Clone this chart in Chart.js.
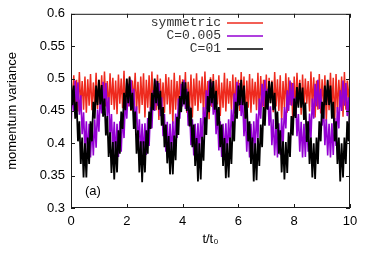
<!DOCTYPE html>
<html>
<head>
<meta charset="utf-8">
<script src="https://cdn.jsdelivr.net/npm/chart.js@4.4.1/dist/chart.umd.min.js"></script>
<style>
  html, body { margin: 0; padding: 0; background: #fff; }
  #wrap { width: 374px; height: 262px; }
</style>
</head>
<body>
<div id="wrap"><canvas id="varianceChart" width="374" height="262"></canvas></div>
<script>
// sampling step of the curves, in units of t0
const timeStep = 0.05;
const xTicks = [0, 2, 4, 6, 8, 10];
const yTicks = [0.3, 0.35, 0.4, 0.45, 0.5, 0.55, 0.6];
const seriesLabels = ['symmetric', 'C=0.005', 'C=01'];
const panelLabel = '(a)';

const symmetric = [
    0.478, 0.462, 0.505, 0.455, 0.498, 0.449, 0.510, 0.458, 0.496, 0.452,
    0.503, 0.447, 0.499, 0.458, 0.507, 0.451, 0.494, 0.460, 0.509, 0.453,
    0.498, 0.462, 0.505, 0.448, 0.511, 0.457, 0.496, 0.450, 0.508, 0.459,
    0.501, 0.452, 0.497, 0.445, 0.506, 0.461, 0.500, 0.454, 0.512, 0.448,
    0.499, 0.457, 0.504, 0.450, 0.497, 0.463, 0.509, 0.452, 0.495, 0.446,
    0.503, 0.459, 0.508, 0.440, 0.498, 0.455, 0.505, 0.449, 0.511, 0.458,
    0.497, 0.451, 0.506, 0.436, 0.500, 0.457, 0.494, 0.447, 0.507, 0.460,
    0.502, 0.445, 0.498, 0.430, 0.509, 0.452, 0.496, 0.458, 0.505, 0.449,
    0.499, 0.461, 0.510, 0.447, 0.495, 0.455, 0.506, 0.440, 0.500, 0.458,
    0.508, 0.450, 0.497, 0.462, 0.503, 0.444, 0.511, 0.453, 0.496, 0.437,
    0.502, 0.456, 0.507, 0.448, 0.498, 0.460, 0.505, 0.442, 0.494, 0.455,
    0.509, 0.449, 0.500, 0.461, 0.496, 0.452, 0.506, 0.446, 0.502, 0.457,
    0.498, 0.450, 0.510, 0.458, 0.503, 0.438, 0.497, 0.455, 0.507, 0.447,
    0.500, 0.460, 0.495, 0.451, 0.509, 0.444, 0.504, 0.456, 0.498, 0.441,
    0.506, 0.453, 0.501, 0.462, 0.497, 0.448, 0.510, 0.457, 0.499, 0.450,
    0.505, 0.436, 0.496, 0.455, 0.508, 0.447, 0.502, 0.459, 0.494, 0.432,
    0.503, 0.451, 0.509, 0.458, 0.498, 0.444, 0.506, 0.453, 0.500, 0.461,
    0.496, 0.449, 0.511, 0.456, 0.502, 0.440, 0.497, 0.452, 0.507, 0.446,
    0.499, 0.458, 0.505, 0.434, 0.496, 0.451, 0.509, 0.455, 0.501, 0.430,
    0.507, 0.447, 0.498, 0.457, 0.503, 0.441, 0.510, 0.452, 0.497, 0.459,
    0.512
];

const c005 = [
    0.423, 0.482, 0.450, 0.497, 0.458, 0.494, 0.444, 0.474, 0.414, 0.448,
    0.389, 0.434, 0.379, 0.430, 0.378, 0.431, 0.381, 0.437, 0.393, 0.452,
    0.418, 0.477, 0.446, 0.495, 0.458, 0.493, 0.442, 0.471, 0.411, 0.445,
    0.387, 0.433, 0.378, 0.430, 0.379, 0.434, 0.387, 0.446, 0.408, 0.469,
    0.438, 0.492, 0.457, 0.498, 0.453, 0.484, 0.427, 0.457, 0.397, 0.437,
    0.381, 0.430, 0.378, 0.431, 0.382, 0.439, 0.396, 0.456, 0.423, 0.482,
    0.450, 0.497, 0.458, 0.493, 0.442, 0.471, 0.411, 0.445, 0.387, 0.433,
    0.378, 0.430, 0.379, 0.434, 0.387, 0.446, 0.408, 0.469, 0.438, 0.492,
    0.457, 0.498, 0.453, 0.484, 0.427, 0.457, 0.397, 0.437, 0.381, 0.430,
    0.378, 0.431, 0.382, 0.439, 0.396, 0.456, 0.423, 0.482, 0.450, 0.497,
    0.458, 0.494, 0.444, 0.474, 0.414, 0.448, 0.389, 0.434, 0.379, 0.430,
    0.378, 0.431, 0.381, 0.437, 0.393, 0.452, 0.418, 0.477, 0.446, 0.495,
    0.458, 0.493, 0.442, 0.471, 0.411, 0.445, 0.387, 0.433, 0.378, 0.430,
    0.379, 0.434, 0.387, 0.446, 0.408, 0.469, 0.438, 0.492, 0.457, 0.498,
    0.453, 0.484, 0.427, 0.457, 0.397, 0.437, 0.381, 0.430, 0.378, 0.431,
    0.382, 0.439, 0.396, 0.456, 0.423, 0.482, 0.450, 0.497, 0.458, 0.493,
    0.442, 0.471, 0.411, 0.445, 0.387, 0.433, 0.378, 0.430, 0.379, 0.434,
    0.387, 0.446, 0.408, 0.469, 0.438, 0.492, 0.457, 0.498, 0.453, 0.484,
    0.427, 0.457, 0.397, 0.437, 0.381, 0.430, 0.378, 0.431, 0.382, 0.439,
    0.396, 0.456, 0.423, 0.482, 0.450, 0.497, 0.458, 0.493, 0.442, 0.471,
    0.411
];

const c01 = [
    0.498, 0.459, 0.489, 0.438, 0.464, 0.403, 0.434, 0.368, 0.409, 0.347,
    0.400, 0.347, 0.409, 0.368, 0.434, 0.403, 0.464, 0.438, 0.489, 0.459,
    0.498, 0.460, 0.490, 0.441, 0.469, 0.412, 0.442, 0.379, 0.417, 0.354,
    0.402, 0.344, 0.403, 0.355, 0.420, 0.384, 0.449, 0.422, 0.478, 0.451,
    0.500, 0.462, 0.502, 0.451, 0.478, 0.422, 0.449, 0.384, 0.420, 0.355,
    0.403, 0.340, 0.403, 0.355, 0.420, 0.384, 0.449, 0.422, 0.478, 0.451,
    0.500, 0.462, 0.496, 0.452, 0.481, 0.427, 0.456, 0.394, 0.429, 0.369,
    0.411, 0.352, 0.402, 0.352, 0.412, 0.374, 0.441, 0.413, 0.473, 0.448,
    0.495, 0.460, 0.494, 0.450, 0.480, 0.426, 0.455, 0.394, 0.429, 0.365,
    0.408, 0.341, 0.400, 0.344, 0.410, 0.373, 0.440, 0.413, 0.473, 0.448,
    0.499, 0.462, 0.496, 0.452, 0.481, 0.427, 0.456, 0.394, 0.429, 0.365,
    0.408, 0.346, 0.400, 0.347, 0.409, 0.368, 0.434, 0.403, 0.464, 0.438,
    0.489, 0.459, 0.498, 0.459, 0.489, 0.438, 0.464, 0.403, 0.434, 0.368,
    0.409, 0.341, 0.400, 0.343, 0.408, 0.365, 0.429, 0.394, 0.456, 0.427,
    0.481, 0.452, 0.496, 0.462, 0.495, 0.451, 0.478, 0.422, 0.449, 0.384,
    0.420, 0.355, 0.403, 0.344, 0.402, 0.354, 0.417, 0.379, 0.442, 0.412,
    0.469, 0.439, 0.487, 0.455, 0.493, 0.455, 0.486, 0.436, 0.463, 0.402,
    0.434, 0.368, 0.409, 0.347, 0.400, 0.345, 0.409, 0.368, 0.434, 0.403,
    0.464, 0.438, 0.489, 0.459, 0.498, 0.459, 0.489, 0.438, 0.464, 0.403,
    0.434, 0.368, 0.409, 0.341, 0.400, 0.347, 0.409, 0.368, 0.434, 0.403,
    0.464
];

const colorRed = '#ee2a1e';
const colorViolet = '#9400d3';
const colorBlack = '#000000';
const axisFont = { family: '"Liberation Sans", Arial, sans-serif', size: 13 };
const keyFont = '13px "Liberation Mono", "Courier New", monospace';

function toPoints(values) {
    return values.map((v, i) => ({ x: i * timeStep, y: v }));
}

// gnuplot look: closed frame, inward ticks on all sides, key and panel label
const gnuplotFrame = {
    id: 'gnuplotFrame',
    afterDraw(chart) {
        const ctx = chart.ctx;
        const area = chart.chartArea;
        const xs = chart.scales.x;
        const ys = chart.scales.y;
        const tick = 4;
        ctx.save();
        ctx.strokeStyle = '#1a1a1a';
        ctx.lineWidth = 1;
        ctx.strokeRect(area.left + 0.5, area.top + 0.5, area.right - area.left - 1, area.bottom - area.top - 1);
        ctx.beginPath();
        xTicks.forEach(v => {
            const px = Math.round(xs.getPixelForValue(v)) + 0.5;
            ctx.moveTo(px, area.bottom); ctx.lineTo(px, area.bottom - tick);
            ctx.moveTo(px, area.top); ctx.lineTo(px, area.top + tick);
        });
        yTicks.forEach(v => {
            const py = Math.round(ys.getPixelForValue(v)) + 0.5;
            ctx.moveTo(area.left, py); ctx.lineTo(area.left + tick, py);
            ctx.moveTo(area.right, py); ctx.lineTo(area.right - tick, py);
        });
        ctx.stroke();

        // key, text right aligned with the sample line after it
        ctx.font = keyFont;
        ctx.textAlign = 'right';
        ctx.textBaseline = 'middle';
        ctx.lineWidth = 1.6;
        chart.data.datasets.forEach((ds, i) => {
            const y = 23 + i * 13;
            ctx.fillStyle = '#333';
            ctx.fillText(ds.label, 221, y);
            ctx.strokeStyle = ds.borderColor;
            ctx.beginPath();
            ctx.moveTo(227, y);
            ctx.lineTo(263, y);
            ctx.stroke();
        });

        ctx.font = '13px ' + axisFont.family;
        ctx.textAlign = 'left';
        ctx.fillStyle = '#000';
        ctx.fillText(panelLabel, xs.getPixelForValue(0.5), ys.getPixelForValue(0.325));
        ctx.restore();
    }
};

new Chart(document.getElementById('varianceChart'), {
    type: 'line',
    data: {
        datasets: [
            { label: seriesLabels[0], data: toPoints(symmetric), borderColor: colorRed, borderWidth: 1.5, order: 2 },
            { label: seriesLabels[1], data: toPoints(c005), borderColor: colorViolet, borderWidth: 1.6, order: 1 },
            { label: seriesLabels[2], data: toPoints(c01), borderColor: colorBlack, borderWidth: 1.8, order: 0 }
        ]
    },
    options: {
        responsive: false,
        animation: false,
        devicePixelRatio: 1,
        layout: { padding: { top: 13, right: 24, left: 0, bottom: 0 } },
        elements: {
            line: { tension: 0, fill: false },
            point: { radius: 0 }
        },
        plugins: { legend: { display: false }, tooltip: { enabled: false } },
        scales: {
            x: {
                type: 'linear',
                min: 0,
                max: 10,
                afterBuildTicks: s => { s.ticks = xTicks.map(v => ({ value: v })); },
                afterFit: s => { s.height = 54; },
                grid: { display: false, drawTicks: false },
                border: { display: false },
                ticks: { color: '#000', font: axisFont, padding: 6, maxRotation: 0, autoSkip: false },
                title: { display: true, text: 't/t\u2080', color: '#000', font: axisFont, padding: { top: 0, bottom: 15 } }
            },
            y: {
                type: 'linear',
                min: 0.3,
                max: 0.6,
                afterBuildTicks: s => { s.ticks = yTicks.map(v => ({ value: v })); },
                afterFit: s => { s.width = 71; },
                grid: { display: false, drawTicks: false },
                border: { display: false },
                ticks: { color: '#000', font: axisFont, padding: 6, callback: v => String(+v.toFixed(2)) },
                title: { display: true, text: 'momentum variance', color: '#000', font: axisFont, padding: { top: 5, bottom: 0 } }
            }
        }
    },
    plugins: [gnuplotFrame]
});
</script>
</body>
</html>
